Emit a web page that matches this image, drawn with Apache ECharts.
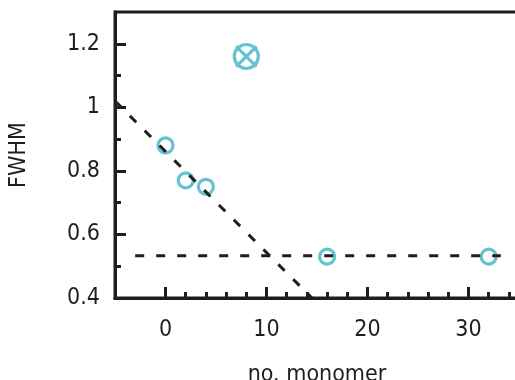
<!DOCTYPE html>
<html>
<head>
<meta charset="utf-8">
<script src="https://cdn.jsdelivr.net/npm/echarts@6/dist/echarts.min.js"></script>
<style>
  html, body { margin: 0; padding: 0; background: #fff; }
  #chart { width: 515px; height: 380px; }
</style>
</head>
<body>
<div id="chart"></div>
<script>
// measured points: monomer count vs FWHM
const monomers = [0, 2, 4, 16, 32]
const fwhm = [0.88, 0.77, 0.75, 0.53, 0.53]
// the outlier drawn as a crossed circle
const outlier = [8, 1.16]
// dashed guide lines, endpoints
const plateauLine = [[-3, 0.533], [33.2, 0.533]]
const slopeLine = [[-5, 1.02], [14.5, 0.40]]

const xMajor = [0, 10, 20, 30]
const xMinor = [2, 4, 6, 8, 12, 14, 16, 18, 22, 24, 26, 28, 32, 34]
const yMajor = [0.4, 0.6, 0.8, 1, 1.2]
const yMinor = [0.5, 0.7, 0.9, 1.1]

const teal = '#3db3c5'
const ink = '#1e1e1e'
const font = "'DejaVu Sans Condensed', 'DejaVu Sans', sans-serif"

const chart = echarts.init(document.getElementById('chart'))

const axisBase = {
  type: 'value',
  splitLine: { show: false },
  axisLine: { show: true, onZero: false, lineStyle: { color: ink, width: 3 } },
}

chart.setOption({
  animation: false,
  backgroundColor: '#fff',
  grid: {
    left: 115, top: 12, width: 404, height: 286,
    outerBoundsMode: 'none', containLabel: false,
    show: true, borderColor: ink, borderWidth: 3,
  },
  xAxis: [
    {
      ...axisBase,
      min: -5, max: 35,
      name: 'no. monomer',
      nameLocation: 'middle',
      nameGap: 66,
      nameTextStyle: { fontFamily: font, fontSize: 23, color: ink },
      axisTick: { inside: true, length: 11, customValues: xMajor, lineStyle: { color: ink, width: 3 } },
      axisLabel: { customValues: xMajor, margin: 21, fontFamily: font, fontSize: 23, color: ink },
    },
    {
      ...axisBase,
      min: -5, max: 35,
      position: 'bottom',
      axisTick: { inside: true, length: 6, customValues: xMinor, lineStyle: { color: ink, width: 3 } },
      axisLabel: { show: false },
    },
  ],
  yAxis: [
    {
      ...axisBase,
      min: 0.4, max: 1.3,
      name: 'FWHM',
      nameLocation: 'middle',
      nameGap: 84,
      nameTextStyle: { fontFamily: font, fontSize: 23, color: ink },
      axisTick: { inside: true, length: 11, customValues: yMajor, lineStyle: { color: ink, width: 3 } },
      axisLabel: { customValues: yMajor, margin: 15, fontFamily: font, fontSize: 23, color: ink },
    },
    {
      ...axisBase,
      min: 0.4, max: 1.3,
      position: 'left',
      axisTick: { inside: true, length: 6, customValues: yMinor, lineStyle: { color: ink, width: 3 } },
      axisLabel: { show: false },
    },
  ],
  series: [
    {
      type: 'scatter',
      data: monomers.map((m, i) => [m, fwhm[i]]),
      symbol: 'circle',
      symbolSize: 15,
      itemStyle: { color: 'transparent', borderColor: teal, borderWidth: 3.2 },
      z: 2,
    },
    {
      type: 'scatter',
      data: [outlier],
      symbol: 'path://M2 12A10 10 0 1 0 22 12A10 10 0 1 0 2 12Z M3.5 3.5L20.5 20.5M20.5 3.5L3.5 20.5',
      symbolSize: 24,
      itemStyle: { color: 'transparent', borderColor: teal, borderWidth: 3.2 },
      z: 2,
    },
    {
      type: 'line',
      data: plateauLine,
      symbol: 'none',
      lineStyle: { color: ink, width: 3, type: [9, 12] },
      z: 3,
    },
    {
      type: 'line',
      data: slopeLine,
      symbol: 'none',
      lineStyle: { color: ink, width: 3, type: [9, 12] },
      z: 3,
    },
  ],
})
</script>
</body>
</html>
